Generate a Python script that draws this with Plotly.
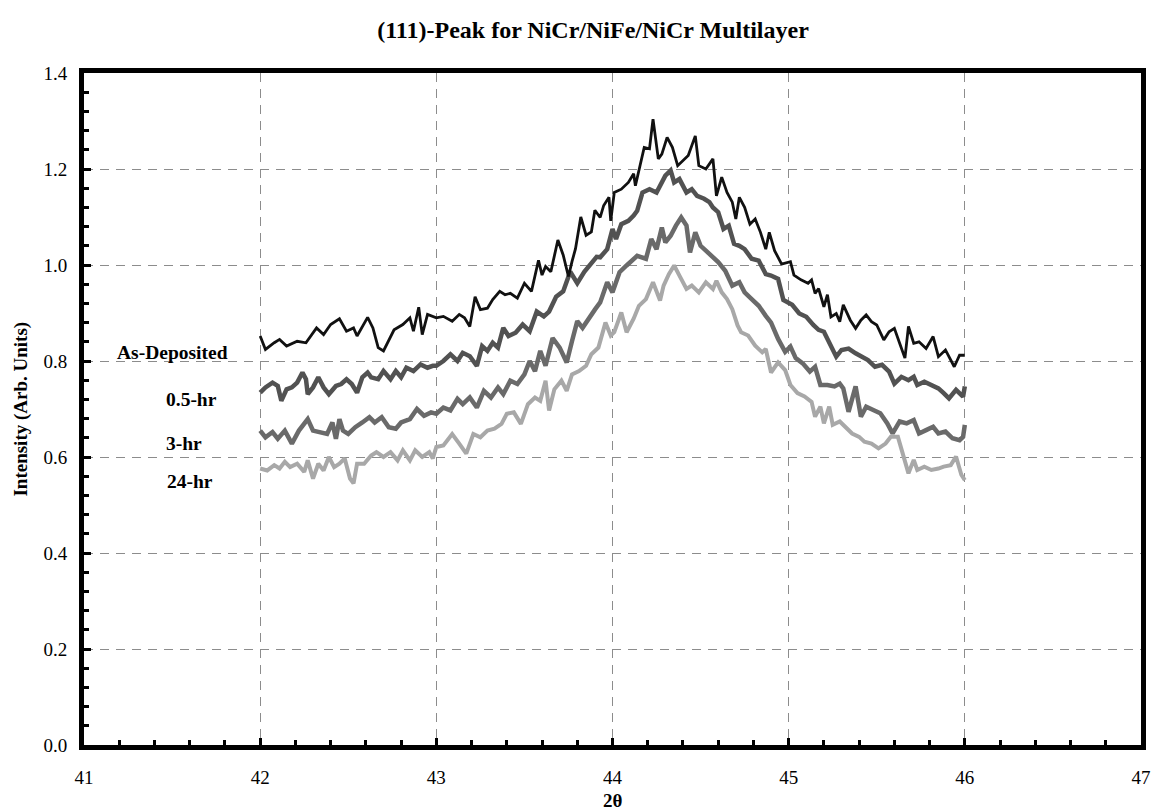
import plotly.graph_objects as go

# ---------------- data ----------------
as_dep_x = [42.00, 42.03, 42.08, 42.11, 42.15, 42.21, 42.26, 42.32, 42.36, 42.40, 42.45, 42.49, 42.53, 42.55,
            42.61, 42.64, 42.67, 42.70, 42.76, 42.81, 42.85, 42.87, 42.90, 42.92, 42.95, 43.00, 43.04, 43.09,
            43.13, 43.16, 43.19, 43.22, 43.25, 43.29, 43.32, 43.36, 43.39, 43.42, 43.46, 43.50, 43.54, 43.58,
            43.60, 43.62, 43.65, 43.69, 43.72, 43.75, 43.77, 43.79, 43.82, 43.85, 43.88, 43.90, 43.93, 43.95,
            43.98, 43.99, 44.01, 44.05, 44.09, 44.12, 44.13, 44.16, 44.18, 44.21, 44.23, 44.26, 44.28, 44.31,
            44.34, 44.37, 44.40, 44.43, 44.47, 44.49, 44.53, 44.57, 44.59, 44.62, 44.65, 44.68, 44.70, 44.72,
            44.75, 44.78, 44.81, 44.84, 44.87, 44.89, 44.92, 44.96, 45.01, 45.03, 45.07, 45.11, 45.13, 45.15,
            45.17, 45.20, 45.22, 45.24, 45.27, 45.29, 45.31, 45.35, 45.38, 45.41, 45.44, 45.47, 45.50, 45.54,
            45.57, 45.60, 45.63, 45.66, 45.68, 45.71, 45.74, 45.78, 45.82, 45.85, 45.89, 45.94, 45.97, 46.00]
as_dep_y = [0.852, 0.824, 0.838, 0.845, 0.831, 0.841, 0.838, 0.869, 0.855, 0.876, 0.888, 0.862, 0.869, 0.852,
            0.891, 0.869, 0.828, 0.821, 0.865, 0.876, 0.890, 0.862, 0.912, 0.855, 0.897, 0.890, 0.893, 0.883,
            0.897, 0.890, 0.872, 0.934, 0.907, 0.910, 0.928, 0.945, 0.938, 0.941, 0.931, 0.962, 0.945, 1.010,
            0.979, 0.997, 0.986, 1.052, 1.021, 0.976, 1.007, 1.034, 1.100, 1.062, 1.069, 1.114, 1.099, 1.124,
            1.141, 1.092, 1.151, 1.158, 1.172, 1.190, 1.165, 1.214, 1.245, 1.242, 1.304, 1.221, 1.231, 1.266,
            1.245, 1.207, 1.217, 1.228, 1.269, 1.207, 1.200, 1.221, 1.144, 1.183, 1.151, 1.131, 1.096, 1.141,
            1.120, 1.085, 1.096, 1.068, 1.033, 1.068, 1.030, 1.002, 1.007, 0.979, 0.969, 0.962, 0.969, 0.941,
            0.951, 0.913, 0.938, 0.892, 0.899, 0.882, 0.917, 0.885, 0.868, 0.885, 0.896, 0.882, 0.875, 0.844,
            0.861, 0.868, 0.837, 0.806, 0.872, 0.837, 0.840, 0.826, 0.851, 0.809, 0.823, 0.788, 0.812, 0.812]

hr05_x = [42.00, 42.03, 42.07, 42.10, 42.12, 42.15, 42.18, 42.21, 42.24, 42.26, 42.27, 42.30, 42.33, 42.36,
          42.39, 42.43, 42.46, 42.49, 42.52, 42.55, 42.58, 42.61, 42.63, 42.67, 42.70, 42.74, 42.77, 42.80,
          42.83, 42.87, 42.91, 42.95, 42.98, 43.00, 43.04, 43.08, 43.12, 43.15, 43.19, 43.23, 43.26, 43.29,
          43.32, 43.35, 43.38, 43.41, 43.45, 43.49, 43.53, 43.57, 43.61, 43.64, 43.68, 43.72, 43.76, 43.80,
          43.84, 43.88, 43.91, 43.93, 43.97, 44.00, 44.02, 44.05, 44.09, 44.12, 44.14, 44.17, 44.21, 44.25,
          44.27, 44.30, 44.33, 44.35, 44.38, 44.42, 44.45, 44.48, 44.52, 44.55, 44.57, 44.60, 44.63, 44.66,
          44.69, 44.72, 44.75, 44.79, 44.83, 44.87, 44.90, 44.94, 44.97, 45.00, 45.02, 45.06, 45.10, 45.14,
          45.17, 45.20, 45.23, 45.27, 45.30, 45.34, 45.38, 45.42, 45.45, 45.49, 45.53, 45.57, 45.60, 45.64,
          45.68, 45.71, 45.73, 45.77, 45.81, 45.85, 45.88, 45.91, 45.95, 45.99, 46.00]
hr05_y = [0.734, 0.745, 0.755, 0.748, 0.717, 0.741, 0.745, 0.755, 0.776, 0.762, 0.731, 0.745, 0.766, 0.745,
          0.731, 0.748, 0.752, 0.762, 0.752, 0.734, 0.766, 0.776, 0.766, 0.762, 0.779, 0.762, 0.779, 0.766,
          0.786, 0.779, 0.793, 0.786, 0.790, 0.790, 0.800, 0.814, 0.800, 0.817, 0.810, 0.790, 0.831, 0.821,
          0.838, 0.828, 0.869, 0.852, 0.859, 0.876, 0.862, 0.903, 0.893, 0.903, 0.934, 0.945, 0.986, 0.962,
          0.986, 1.003, 1.017, 1.016, 1.033, 1.075, 1.054, 1.085, 1.092, 1.103, 1.113, 1.151, 1.158, 1.151,
          1.165, 1.186, 1.197, 1.172, 1.179, 1.151, 1.158, 1.144, 1.138, 1.131, 1.120, 1.110, 1.075, 1.082,
          1.044, 1.040, 1.033, 1.013, 1.009, 0.981, 0.978, 0.971, 0.927, 0.920, 0.917, 0.899, 0.892, 0.875,
          0.865, 0.861, 0.837, 0.809, 0.823, 0.826, 0.816, 0.809, 0.802, 0.788, 0.792, 0.778, 0.753, 0.767,
          0.760, 0.767, 0.750, 0.757, 0.750, 0.743, 0.733, 0.722, 0.740, 0.726, 0.747]

hr3_x = [42.00, 42.03, 42.07, 42.10, 42.14, 42.18, 42.22, 42.27, 42.30, 42.34, 42.38, 42.41, 42.43, 42.45,
         42.47, 42.50, 42.54, 42.58, 42.62, 42.65, 42.69, 42.73, 42.77, 42.80, 42.85, 42.89, 42.93, 42.97,
         43.00, 43.04, 43.08, 43.12, 43.15, 43.19, 43.23, 43.27, 43.31, 43.35, 43.38, 43.42, 43.46, 43.50,
         43.53, 43.56, 43.59, 43.62, 43.66, 43.70, 43.74, 43.77, 43.80, 43.83, 43.87, 43.90, 43.93, 43.97,
         44.00, 44.04, 44.08, 44.12, 44.14, 44.19, 44.22, 44.25, 44.28, 44.30, 44.33, 44.36, 44.39, 44.42,
         44.44, 44.47, 44.50, 44.53, 44.57, 44.60, 44.64, 44.68, 44.72, 44.75, 44.79, 44.83, 44.87, 44.90,
         44.94, 44.98, 45.01, 45.04, 45.08, 45.12, 45.15, 45.18, 45.22, 45.26, 45.29, 45.31, 45.34, 45.38,
         45.41, 45.44, 45.48, 45.52, 45.56, 45.59, 45.63, 45.67, 45.71, 45.74, 45.78, 45.82, 45.85, 45.89,
         45.93, 45.97, 45.99, 46.00]
hr3_y = [0.655, 0.641, 0.652, 0.638, 0.655, 0.628, 0.655, 0.679, 0.655, 0.652, 0.648, 0.672, 0.638, 0.679,
         0.655, 0.648, 0.662, 0.672, 0.683, 0.672, 0.683, 0.662, 0.659, 0.672, 0.679, 0.700, 0.686, 0.693,
         0.690, 0.703, 0.697, 0.721, 0.710, 0.724, 0.703, 0.738, 0.724, 0.745, 0.731, 0.759, 0.752, 0.772,
         0.800, 0.779, 0.821, 0.790, 0.848, 0.828, 0.797, 0.841, 0.883, 0.869, 0.893, 0.907, 0.922, 0.964,
         0.943, 0.985, 0.999, 1.013, 1.019, 1.013, 1.054, 1.033, 1.078, 1.047, 1.061, 1.082, 1.099, 1.082,
         1.026, 1.068, 1.040, 1.030, 1.016, 1.006, 0.988, 0.957, 0.964, 0.943, 0.929, 0.915, 0.894, 0.880,
         0.846, 0.819, 0.830, 0.806, 0.795, 0.778, 0.788, 0.750, 0.750, 0.747, 0.753, 0.743, 0.694, 0.747,
         0.684, 0.705, 0.698, 0.691, 0.670, 0.649, 0.674, 0.670, 0.677, 0.649, 0.656, 0.663, 0.649, 0.653,
         0.639, 0.635, 0.642, 0.667]

hr24_x = [42.00, 42.04, 42.08, 42.11, 42.14, 42.17, 42.21, 42.25, 42.27, 42.30, 42.33, 42.36, 42.39, 42.42,
          42.45, 42.48, 42.51, 42.53, 42.55, 42.59, 42.63, 42.66, 42.70, 42.74, 42.78, 42.81, 42.85, 42.88,
          42.92, 42.96, 42.98, 43.00, 43.04, 43.09, 43.13, 43.17, 43.21, 43.25, 43.29, 43.33, 43.37, 43.40,
          43.44, 43.48, 43.52, 43.56, 43.59, 43.62, 43.64, 43.67, 43.71, 43.74, 43.77, 43.81, 43.85, 43.88,
          43.92, 43.96, 43.99, 44.01, 44.05, 44.08, 44.12, 44.15, 44.19, 44.23, 44.27, 44.29, 44.32, 44.35,
          44.38, 44.42, 44.45, 44.49, 44.53, 44.57, 44.59, 44.62, 44.65, 44.68, 44.71, 44.73, 44.77, 44.81,
          44.85, 44.87, 44.90, 44.94, 44.98, 45.01, 45.05, 45.09, 45.13, 45.15, 45.18, 45.20, 45.23, 45.25,
          45.29, 45.32, 45.36, 45.40, 45.43, 45.47, 45.51, 45.55, 45.58, 45.62, 45.65, 45.68, 45.71, 45.73,
          45.77, 45.81, 45.85, 45.88, 45.92, 45.95, 45.98, 46.00]
hr24_y = [0.576, 0.572, 0.583, 0.576, 0.590, 0.579, 0.586, 0.569, 0.593, 0.555, 0.586, 0.572, 0.600, 0.579,
          0.586, 0.597, 0.555, 0.545, 0.586, 0.586, 0.603, 0.610, 0.600, 0.610, 0.593, 0.614, 0.593, 0.614,
          0.600, 0.610, 0.597, 0.621, 0.624, 0.648, 0.628, 0.607, 0.648, 0.641, 0.655, 0.659, 0.669, 0.690,
          0.693, 0.669, 0.710, 0.724, 0.717, 0.759, 0.697, 0.741, 0.759, 0.738, 0.772, 0.779, 0.790, 0.814,
          0.828, 0.880, 0.853, 0.860, 0.901, 0.860, 0.888, 0.915, 0.929, 0.964, 0.926, 0.957, 0.981, 0.999,
          0.978, 0.950, 0.957, 0.943, 0.964, 0.950, 0.967, 0.943, 0.929, 0.908, 0.874, 0.860, 0.853, 0.832,
          0.818, 0.825, 0.776, 0.797, 0.781, 0.750, 0.733, 0.726, 0.715, 0.684, 0.705, 0.670, 0.705, 0.667,
          0.674, 0.663, 0.649, 0.642, 0.632, 0.628, 0.618, 0.628, 0.642, 0.642, 0.601, 0.566, 0.594, 0.573,
          0.580, 0.573, 0.576, 0.580, 0.583, 0.601, 0.563, 0.552]

series_names = ["As-Deposited", "0.5-hr", "3-hr", "24-hr"]
title_text = "(111)-Peak for NiCr/NiFe/NiCr Multilayer"
x_title = "2θ"
y_title = "Intensity (Arb. Units)"

# ---------------- figure ----------------
SERIF = "Liberation Serif, Times New Roman, serif"

fig = go.Figure()
traces = [
    (hr24_x, hr24_y, "#a8a8a8", 4.0, series_names[3]),
    (hr3_x, hr3_y, "#6a6a6a", 4.5, series_names[2]),
    (hr05_x, hr05_y, "#525252", 4.5, series_names[1]),
    (as_dep_x, as_dep_y, "#111111", 2.8, series_names[0]),
]
for xs, ys, col, w, nm in traces:
    fig.add_trace(go.Scatter(x=xs, y=ys, mode="lines", name=nm,
                             line=dict(color=col, width=w), showlegend=False))

# series labels placed beside the curves
label_pos = {"As-Deposited": (41.50, 0.817), "0.5-hr": (41.61, 0.719),
             "3-hr": (41.57, 0.629), "24-hr": (41.60, 0.548)}
for nm in series_names:
    lx, ly = label_pos[nm]
    fig.add_annotation(x=lx, y=ly, xref="x", yref="y", text=f"<b>{nm}</b>", showarrow=False,
                       font=dict(family=SERIF, size=19.5, color="black"),
                       xanchor="center", yanchor="middle")

# y axis title
fig.add_annotation(x=-0.06, y=0.5, xref="paper", yref="paper", text=f"<b>{y_title}</b>",
                   textangle=-90, showarrow=False, font=dict(family=SERIF, size=19, color="black"),
                   xanchor="center", yanchor="middle")
# x axis title
fig.add_annotation(x=0.5, y=-0.083, xref="paper", yref="paper", text=f"<b>{x_title}</b>",
                   showarrow=False, font=dict(family=SERIF, size=19, color="black"),
                   xanchor="center", yanchor="middle")

grid_dash = "9px,7px"
fig.update_layout(
    width=1161, height=810,
    margin=dict(l=84, r=10, t=73, b=65),
    paper_bgcolor="white", plot_bgcolor="white",
    title=dict(text=f"<b>{title_text}</b>", x=593 / 1161, xanchor="center",
               y=1 - 30 / 810, yanchor="middle", yref="container",
               font=dict(family=SERIF, size=24, color="black")),
    font=dict(family=SERIF, color="black"),
)
fig.update_xaxes(
    range=[41, 47], dtick=1, tick0=41, tickformat="d",
    showline=True, linecolor="black", linewidth=5, mirror=True,
    ticks="inside", ticklen=7, tickwidth=3, tickcolor="black",
    minor=dict(ticks="inside", dtick=0.2, tick0=41, ticklen=5, tickwidth=3, tickcolor="black", showgrid=False),
    showgrid=True, gridcolor="#8c8c8c", gridwidth=1, griddash=grid_dash,
    zeroline=False, tickfont=dict(family=SERIF, size=19, color="black"),
    ticklabelstandoff=11,
)
fig.update_yaxes(
    range=[0, 1.4], dtick=0.2, tick0=0, tickformat=".1f",
    showline=True, linecolor="black", linewidth=5, mirror=True,
    ticks="inside", ticklen=7, tickwidth=3, tickcolor="black",
    minor=dict(ticks="inside", dtick=0.04, tick0=0, ticklen=5, tickwidth=3, tickcolor="black", showgrid=False),
    showgrid=True, gridcolor="#8c8c8c", gridwidth=1, griddash=grid_dash,
    zeroline=False, tickfont=dict(family=SERIF, size=19, color="black"),
    ticklabelstandoff=8,
)

fig.write_html("out.html")
